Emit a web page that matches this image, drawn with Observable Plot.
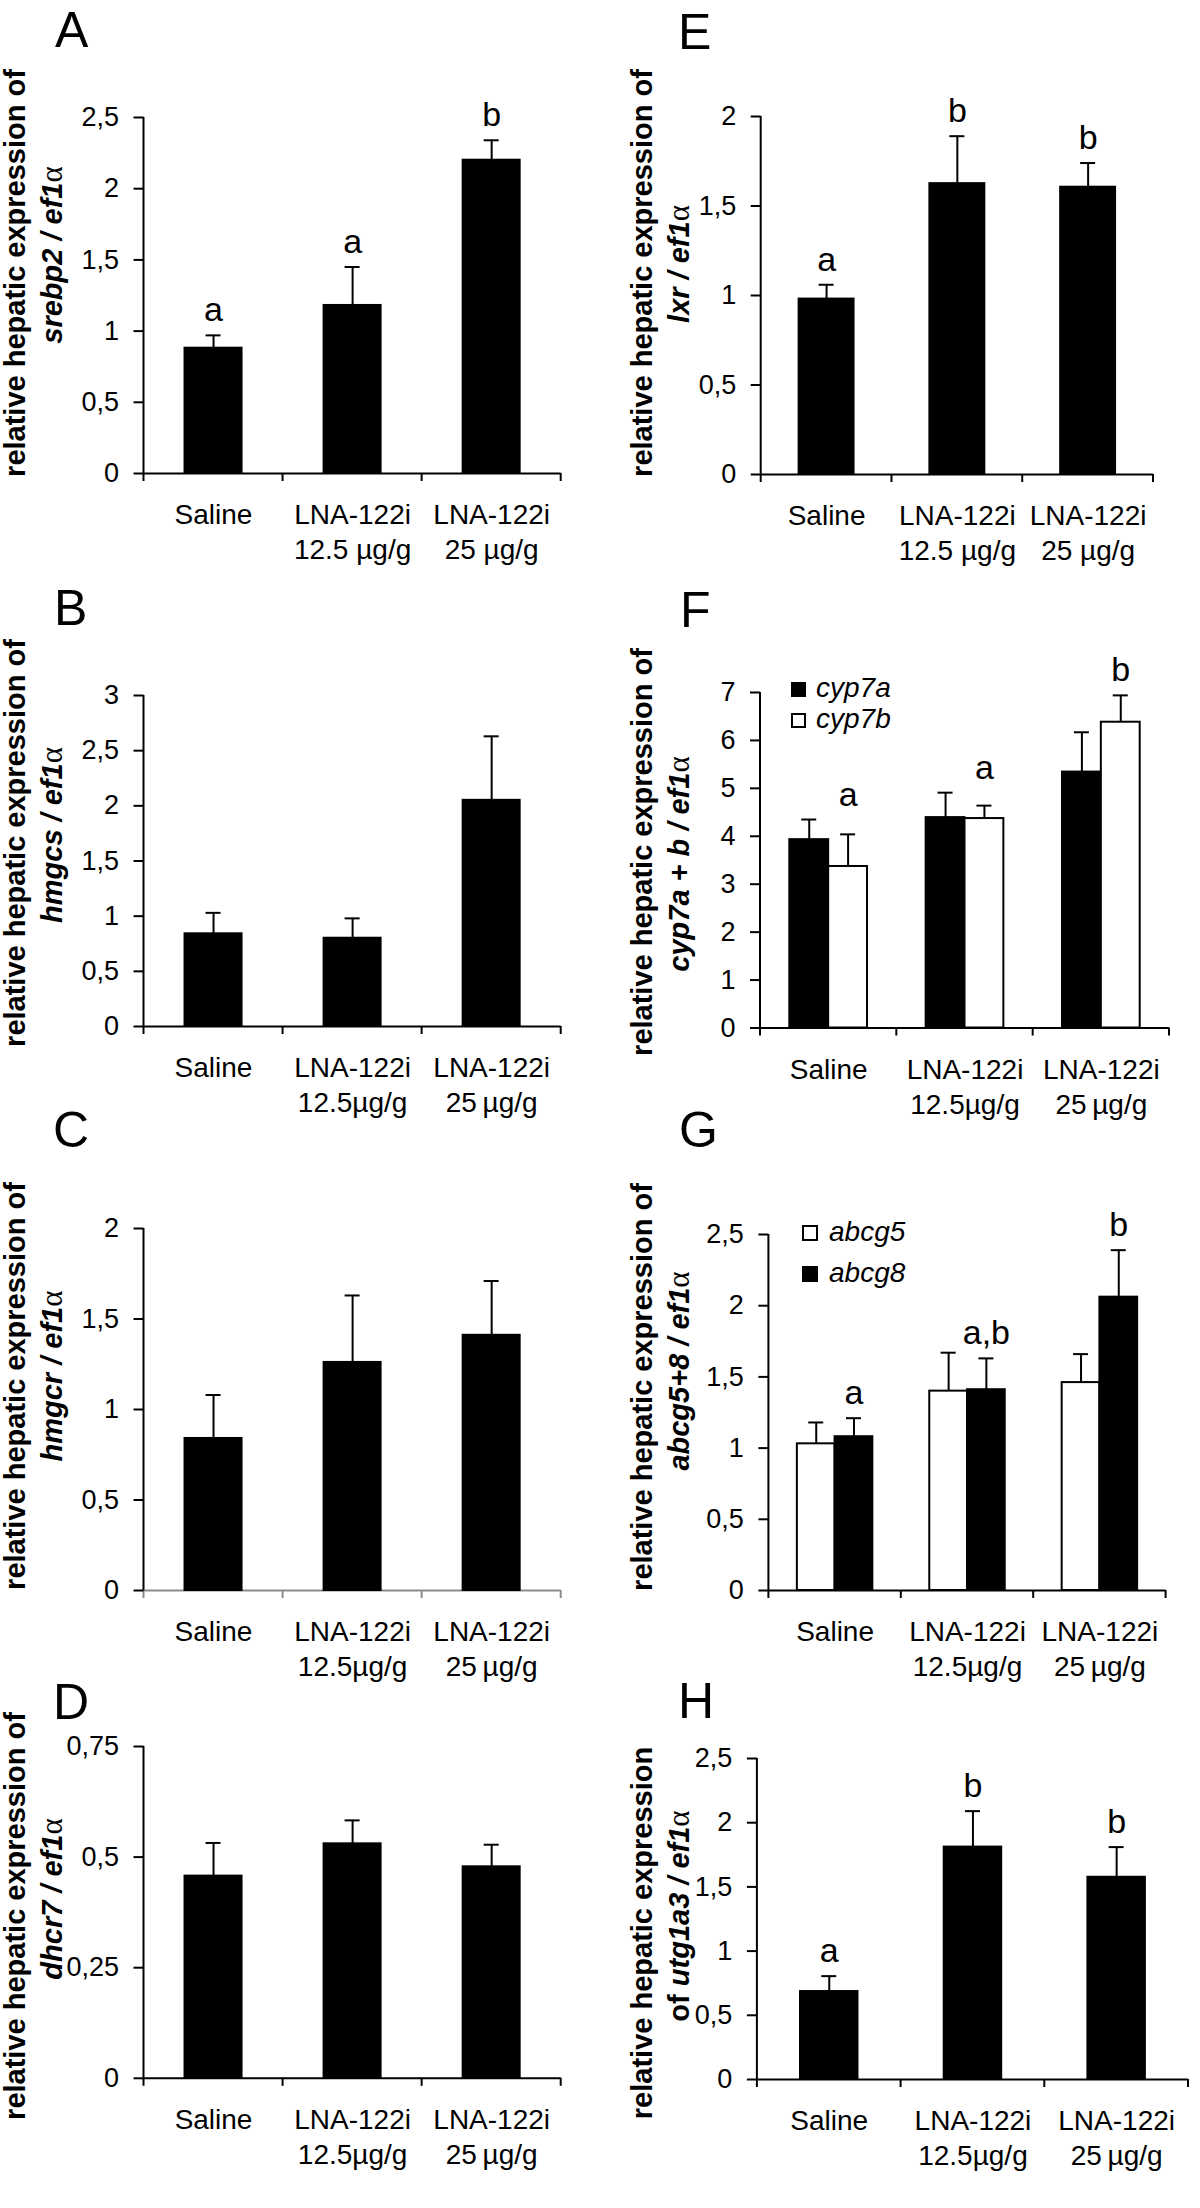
<!DOCTYPE html>
<html>
<head>
<meta charset="utf-8">
<script src="https://cdn.jsdelivr.net/npm/d3@7"></script>
<script src="https://cdn.jsdelivr.net/npm/@observablehq/plot@0.6"></script>
<style>
  html, body { margin: 0; padding: 0; background: #fff; }
  #root { position: relative; width: 1200px; height: 2208px; overflow: hidden; background: #fff;
          font-family: "Liberation Sans", Arial, Helvetica, sans-serif; color: #000; }
  .panel { position: absolute; }
  .panel svg { display: block; overflow: visible; }
  .plabel { position: absolute; font-size: 50px; line-height: 50px; white-space: nowrap; }
  .ylab { position: absolute; width: 600px; height: 36px; line-height: 36px; font-size: 29px; font-weight: bold;
          text-align: center; white-space: nowrap; transform: rotate(-90deg); }
  .ylab i { font-style: italic; }
  .ylab .alpha { font-weight: normal; font-style: normal; font-family: "Liberation Serif", "DejaVu Serif", serif; font-size: 31px; }
  .legend { position: absolute; font-size: 28px; font-style: italic; white-space: nowrap; }
  .legend .sw { display: inline-block; box-sizing: border-box; border: 2px solid #000; vertical-align: baseline; }
</style>
</head>
<body>
<div id="root"></div>
<script>
// ---------------- DATA ----------------
const catsA = ["Saline", "LNA-122i\n12.5 µg/g", "LNA-122i\n25 µg/g"];
const catsB = ["Saline", "LNA-122i\n12.5µg/g", "LNA-122i\n25\u2009µg/g"];

// A: srebp2
const srebp2Mean = [0.88, 1.18, 2.20];
const srebp2Sem = [0.09, 0.27, 0.14];
const srebp2Letters = ["a", "a", "b"];
// B: hmgcs
const hmgcsMean = [0.84, 0.80, 2.05];
const hmgcsSem = [0.19, 0.18, 0.58];
// C: hmgcr
const hmgcrMean = [0.84, 1.26, 1.41];
const hmgcrSem = [0.24, 0.37, 0.30];
// D: dhcr7
const dhcr7Mean = [0.457, 0.530, 0.478];
const dhcr7Sem = [0.075, 0.053, 0.050];
// E: lxr
const lxrMean = [0.98, 1.625, 1.605];
const lxrSem = [0.08, 0.265, 0.135];
const lxrLetters = ["a", "b", "b"];
// F: cyp7a / cyp7b
const cyp7aMean = [3.93, 4.39, 5.34];
const cyp7aSem = [0.42, 0.52, 0.83];
const cyp7bMean = [3.37, 4.37, 6.38];
const cyp7bSem = [0.67, 0.27, 0.56];
const cypLetters = ["a", "a", "b"];
// G: abcg5 / abcg8
const abcg5Mean = [1.03, 1.40, 1.46];
const abcg5Sem = [0.15, 0.27, 0.20];
const abcg8Mean = [1.08, 1.41, 2.06];
const abcg8Sem = [0.13, 0.22, 0.33];
const abcgLetters = ["a", "a,b", "b"];
// H: utg1a3
const utgMean = [0.685, 1.81, 1.575];
const utgSem = [0.12, 0.28, 0.235];
const utgLetters = ["a", "b", "b"];

// y tick values
const ticks25 = [0, 0.5, 1, 1.5, 2, 2.5];
const ticks3 = [0, 0.5, 1, 1.5, 2, 2.5, 3];
const ticks2 = [0, 0.5, 1, 1.5, 2];
const ticks075 = [0, 0.25, 0.5, 0.75];
const ticks7 = [0, 1, 2, 3, 4, 5, 6, 7];

// ---------------- LAYOUT ----------------
const W = 600, MT = 60, MB = 100, CAP = 7.5;
const layout = {
  A: {left: 0,   ytop: 116.5,  y0: 472.5,  mL: 143.5, mR: 39.3, pl: [55, 5],     yl: [[15, 273], [52, 255]]},
  B: {left: 0,   ytop: 695,    y0: 1026,   mL: 143.5, mR: 39.3, pl: [54, 583],   yl: [[15, 843], [52, 835]]},
  C: {left: 0,   ytop: 1227.5, y0: 1589.5, mL: 143.5, mR: 39.3, pl: [53, 1105],  yl: [[15, 1386], [52, 1376]]},
  D: {left: 0,   ytop: 1745.7, y0: 2077.5, mL: 143.5, mR: 39.3, pl: [53, 1677],  yl: [[15, 1916], [52, 1899]]},
  E: {left: 600, ytop: 116,    y0: 474,    mL: 160.7, mR: 47,   pl: [678, 7],    yl: [[642, 273], [679, 264]]},
  F: {left: 600, ytop: 692,    y0: 1027.5, mL: 160,   mR: 31,   pl: [680, 585],  yl: [[642, 852], [679, 864]]},
  G: {left: 600, ytop: 1234,   y0: 1590,   mL: 168.4, mR: 34.4, pl: [679, 1105], yl: [[642, 1387], [679, 1371]]},
  H: {left: 600, ytop: 1758,   y0: 2079,   mL: 156.9, mR: 12,   pl: [678, 1676], yl: [[642, 1933], [679, 1916]]}
};
const ALPHA = "<span class='alpha'>α</span>";

const panels = [
  {id: "A", cats: catsA, yMax: 2.5, ticks: ticks25, frac: 0.41,
   series: [{name: "srebp2", mean: srebp2Mean, sem: srebp2Sem, fill: "#000"}],
   letters: srebp2Letters, letterSeries: 0, letterMode: "own",
   ylab: ["relative hepatic expression of", "<i>srebp2 / ef1</i>" + ALPHA]},
  {id: "B", cats: catsB, yMax: 3, ticks: ticks3, frac: 0.41,
   series: [{name: "hmgcs", mean: hmgcsMean, sem: hmgcsSem, fill: "#000"}],
   ylab: ["relative hepatic expression of", "<i>hmgcs / ef1</i>" + ALPHA]},
  {id: "C", cats: catsB, yMax: 2, ticks: ticks2, frac: 0.41, xAxisColor: "#8c8c8c",
   series: [{name: "hmgcr", mean: hmgcrMean, sem: hmgcrSem, fill: "#000"}],
   ylab: ["relative hepatic expression of", "<i>hmgcr / ef1</i>" + ALPHA]},
  {id: "D", cats: catsB, yMax: 0.75, ticks: ticks075, frac: 0.41,
   series: [{name: "dhcr7", mean: dhcr7Mean, sem: dhcr7Sem, fill: "#000"}],
   ylab: ["relative hepatic expression of", "<i>dhcr7 / ef1</i>" + ALPHA]},
  {id: "E", cats: catsA, yMax: 2, ticks: ticks2, frac: 0.42,
   series: [{name: "lxr", mean: lxrMean, sem: lxrSem, fill: "#000"}],
   letters: lxrLetters, letterSeries: 0, letterMode: "own",
   ylab: ["relative hepatic expression of", "<i>lxr / ef1</i>" + ALPHA]},
  {id: "F", cats: catsB, yMax: 7, ticks: ticks7, frac: 0.57,
   series: [{name: "cyp7a", mean: cyp7aMean, sem: cyp7aSem, fill: "#000"},
            {name: "cyp7b", mean: cyp7bMean, sem: cyp7bSem, fill: "#fff"}],
   letters: cypLetters, letterSeries: 1, letterMode: "max",
   legend: {left: 791, baseline: 697, gap: 31, sw: 15, gapX: 10},
   ylab: ["relative hepatic expression of", "<i>cyp7a + b / ef1</i>" + ALPHA]},
  {id: "G", cats: catsB, yMax: 2.5, ticks: ticks25, frac: 0.57,
   series: [{name: "abcg5", mean: abcg5Mean, sem: abcg5Sem, fill: "#fff"},
            {name: "abcg8", mean: abcg8Mean, sem: abcg8Sem, fill: "#000"}],
   letters: abcgLetters, letterSeries: 1, letterMode: "own",
   legend: {left: 802, baseline: 1241, gap: 41, sw: 16, gapX: 11},
   ylab: ["relative hepatic expression of", "<i>abcg5+8 / ef1</i>" + ALPHA]},
  {id: "H", cats: catsB, yMax: 2.5, ticks: ticks25, frac: 0.40,
   series: [{name: "utg1a3", mean: utgMean, sem: utgSem, fill: "#000"}],
   letters: utgLetters, letterSeries: 0, letterMode: "own",
   ylab: ["relative hepatic expression", "of <i>utg1a3 / ef1</i>" + ALPHA]}
];

const fmtComma = d => String(d).replace(".", ",");

// y-axis line and category-boundary ticks on the x axis
function frameLines(n, color) {
  return (index, scales, values, dims) => {
    const {width, height, marginLeft: ml, marginRight: mr, marginTop: mt, marginBottom: mb} = dims;
    const y0 = height - mb;
    const g = d3.create("svg:g").attr("fill", "none").attr("stroke-width", 2);
    g.append("line").attr("stroke", "#000").attr("x1", ml).attr("x2", ml).attr("y1", mt).attr("y2", y0);
    for (let k = 0; k <= n; k++) {
      const x = ml + k * (width - ml - mr) / n;
      g.append("line").attr("stroke", color).attr("x1", x).attr("x2", x).attr("y1", y0).attr("y2", y0 + 8);
    }
    return g.node();
  };
}

const root = document.getElementById("root");

for (const p of panels) {
  const L = layout[p.id];
  const plotH = L.y0 - L.ytop;
  const height = MT + plotH + MB;
  const plotW = W - L.mL - L.mR;
  const n = p.cats.length;
  const step = plotW / n;
  const bw = step * p.frac;
  const ns = p.series.length;
  const sw = bw / ns;
  const axisColor = p.xAxisColor || "#000";
  const marks = [];
  marks.push(Plot.ruleY([0], {stroke: axisColor, strokeWidth: 2}));
  marks.push(frameLines(n, axisColor));
  p.series.forEach((s, j) => {
    const rows = p.cats.map((c, i) => ({cat: c, mean: s.mean[i], top: s.mean[i] + s.sem[i]}));
    const c = sw * (j + 0.5);
    marks.push(Plot.ruleX(rows, {x: "cat", y1: "mean", y2: "top", dx: c - bw / 2, stroke: "#000", strokeWidth: 2}));
    marks.push(Plot.tickY(rows, {x: "cat", y: "top", insetLeft: c - CAP, insetRight: bw - c - CAP, stroke: "#000", strokeWidth: 2}));
    marks.push(Plot.barY(rows, {x: "cat", y: "mean", insetLeft: sw * j, insetRight: bw - sw * (j + 1),
                                fill: s.fill, stroke: "#000", strokeWidth: 2}));
  });
  if (p.letters) {
    const ls = p.series[p.letterSeries];
    const rows = p.cats.map((c, i) => ({
      cat: c, label: p.letters[i],
      y: p.letterMode === "max" ? d3.max(p.series, s => s.mean[i] + s.sem[i]) : ls.mean[i] + ls.sem[i]
    }));
    marks.push(Plot.text(rows, {x: "cat", y: "y", text: "label", dx: sw * (p.letterSeries + 0.5) - bw / 2,
                                dy: -14, lineAnchor: "bottom", fontSize: 34, fill: "#000"}));
  }
  marks.push(Plot.axisY({ticks: p.ticks, tickFormat: fmtComma, tickSize: 10, tickPadding: 15, fontSize: 27,
                         strokeWidth: 2, label: null}));
  marks.push(Plot.axisX({tickSize: 0, tickPadding: 26, fontSize: 28, lineHeight: 1.25, label: null}));

  const svg = Plot.plot({
    width: W, height,
    marginLeft: L.mL, marginRight: L.mR, marginTop: MT, marginBottom: MB,
    x: {type: "band", domain: p.cats, paddingInner: 1 - p.frac, paddingOuter: (1 - p.frac) / 2, round: false},
    y: {domain: [0, p.yMax]},
    style: {fontFamily: "'Liberation Sans', Arial, Helvetica, sans-serif", fontSize: "27px", color: "#000",
            background: "transparent", overflow: "visible"},
    marks
  });
  const div = document.createElement("div");
  div.className = "panel";
  div.style.left = L.left + "px";
  div.style.top = (L.ytop - MT) + "px";
  div.appendChild(svg);
  root.appendChild(div);

  // panel letter
  const pl = document.createElement("div");
  pl.className = "plabel";
  pl.textContent = p.id;
  pl.style.left = L.pl[0] + "px";
  pl.style.top = L.pl[1] + "px";
  root.appendChild(pl);

  // y label lines
  p.ylab.forEach((html, k) => {
    const d = document.createElement("div");
    d.className = "ylab";
    d.innerHTML = html;
    d.style.left = (L.yl[k][0] - 300) + "px";
    d.style.top = (L.yl[k][1] - 18) + "px";
    root.appendChild(d);
  });

  // legend
  if (p.legend) {
    const g = p.legend;
    const lg = document.createElement("div");
    lg.className = "legend";
    lg.style.left = g.left + "px";
    lg.style.top = (g.baseline - g.gap / 2 - 9.7) + "px";
    lg.style.lineHeight = g.gap + "px";
    p.series.forEach(s => {
      const row = document.createElement("div");
      const sq = document.createElement("span");
      sq.className = "sw";
      sq.style.width = g.sw + "px";
      sq.style.height = g.sw + "px";
      sq.style.marginRight = g.gapX + "px";
      sq.style.background = s.fill;
      row.appendChild(sq);
      row.appendChild(document.createTextNode(s.name));
      lg.appendChild(row);
    });
    root.appendChild(lg);
  }
}
</script>
</body>
</html>
